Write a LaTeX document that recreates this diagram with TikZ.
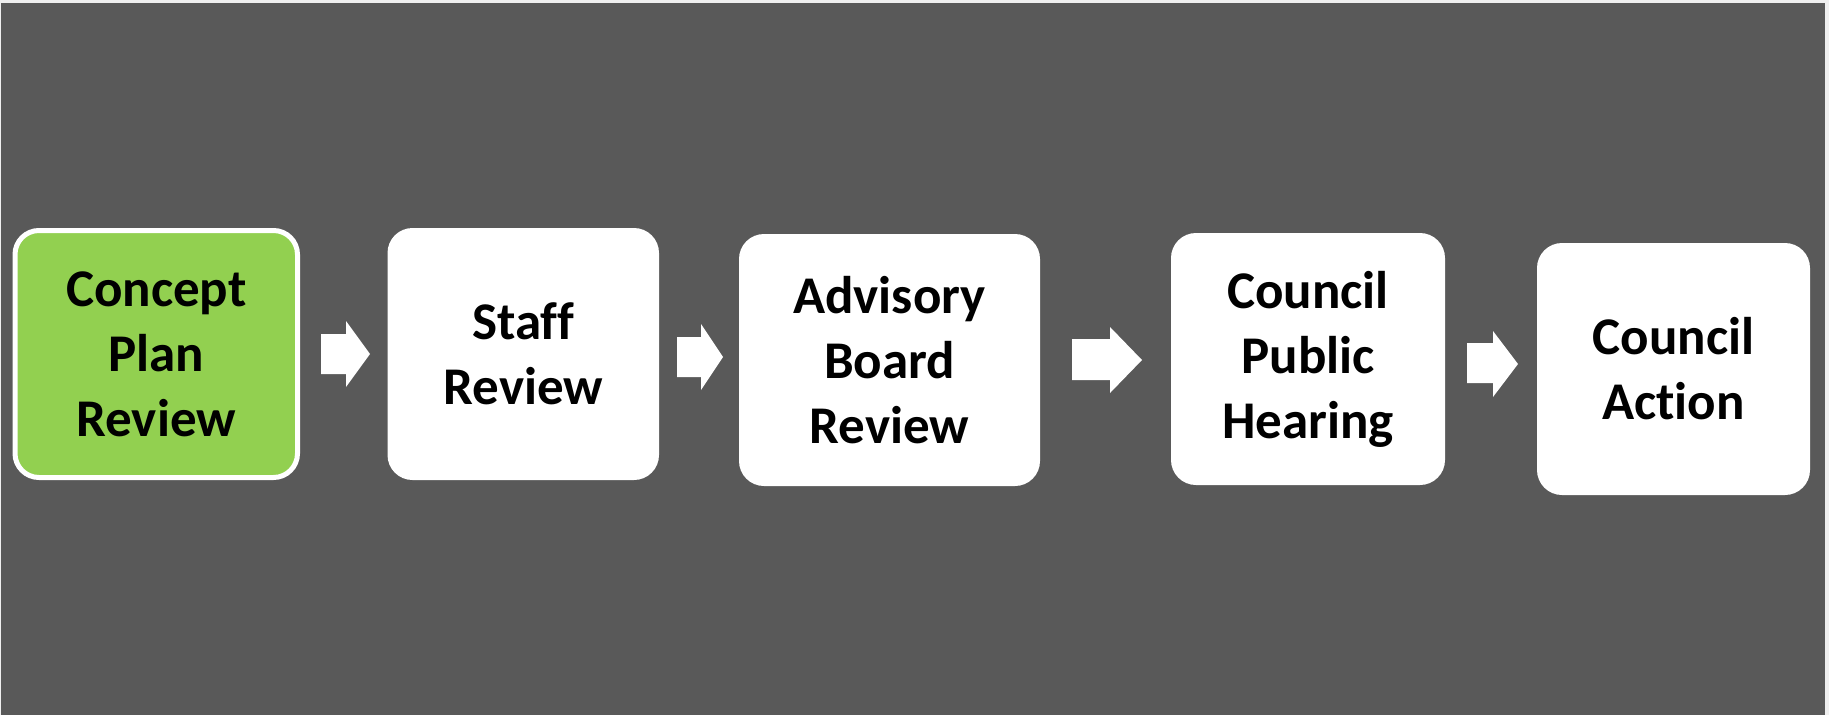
\documentclass[tikz,border=0pt]{standalone}
\usepackage{fontspec}
\setmainfont{Carlito}[Ligatures=NoCommon]
\definecolor{bgdark}{HTML}{595959}
\definecolor{edgelight}{HTML}{EFEFEF}
\definecolor{stepgreen}{HTML}{92D050}
\begin{document}
\begin{tikzpicture}[x=1pt,y=-1pt,
  stepbox/.style={rectangle, rounded corners=25pt, fill=white, draw=none,
    inner sep=0pt, align=center, text=black,
    font=\fontsize{53}{65}\selectfont\bfseries,
    minimum height=252pt},
  greenbox/.style={stepbox, fill=stepgreen, draw=white, line width=5pt, rounded corners=24pt},
  blockarrow/.style={fill=white, draw=none}
]
\useasboundingbox (0,0) rectangle (1829,715);
\fill[edgelight] (0,0) rectangle (1829,715);
\fill[bgdark] (1,3) rectangle (1825,715);

\node[greenbox, minimum width=282.5pt, minimum height=247pt] (concept) at (156.25,354) {Concept\\Plan\\Review};
\node[stepbox, minimum width=271.5pt] (staff) at (523.25,354) {Staff\\Review};
\node[stepbox, minimum width=301pt] (advisory) at (889.5,360) {Advisory\\Board\\Review};
\node[stepbox, minimum width=274pt] (hearing) at (1308,359) {Council\\Public\\Hearing};
\node[stepbox, minimum width=273pt] (action) at (1673.5,369) {Council\\Action};

% block arrows between the steps
\fill[blockarrow] (321,334) -- (346,334) -- (346,321) -- (370,354) -- (346,387) -- (346,374) -- (321,374) -- cycle;
\fill[blockarrow] (677,337) -- (701,337) -- (701,324) -- (723,357) -- (701,390) -- (701,377) -- (677,377) -- cycle;
\fill[blockarrow] (1072,339) -- (1110,339) -- (1110,327) -- (1142,360) -- (1110,393) -- (1110,380) -- (1072,380) -- cycle;
\fill[blockarrow] (1467,343) -- (1493,343) -- (1493,331) -- (1518,364) -- (1493,397) -- (1493,383) -- (1467,383) -- cycle;
\end{tikzpicture}
\end{document}
